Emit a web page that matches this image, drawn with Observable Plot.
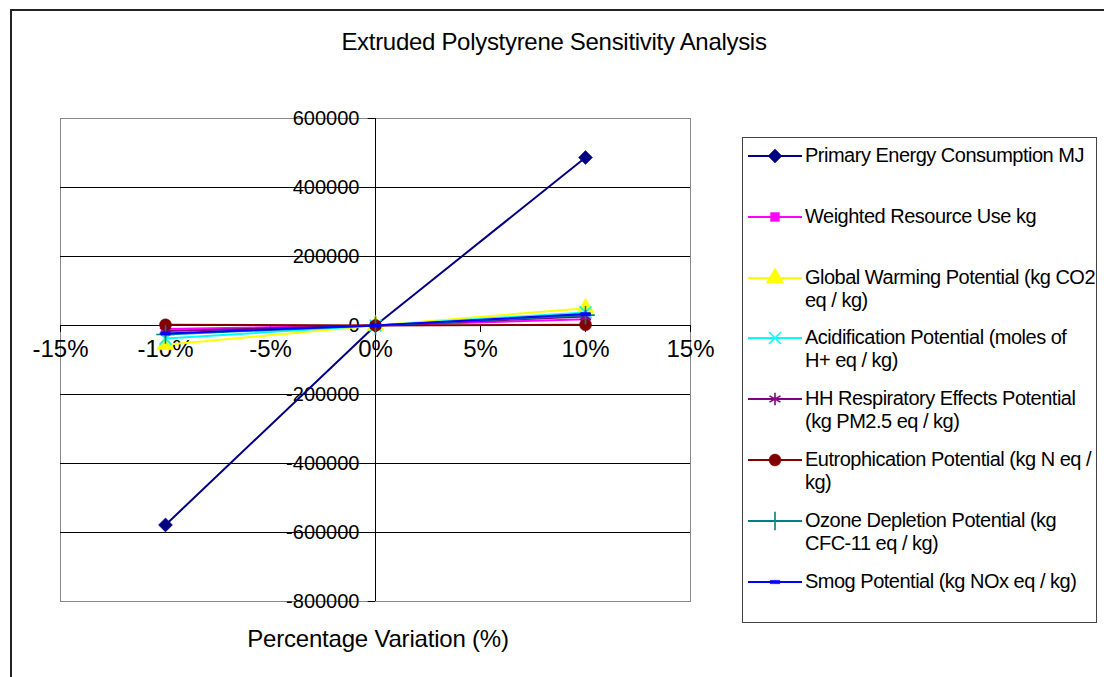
<!DOCTYPE html>
<html>
<head>
<meta charset="utf-8">
<script src="https://cdn.jsdelivr.net/npm/d3@7"></script>
<script src="https://cdn.jsdelivr.net/npm/@observablehq/plot@0.6"></script>
<style>
  html, body { margin: 0; padding: 0; background: #fff; }
  #wrap { position: relative; width: 1104px; height: 677px; overflow: hidden; font-family: "Liberation Sans", Arial, sans-serif; color: #000; }
  #frame { position: absolute; left: 10px; top: 9px; width: 1200px; height: 800px; border-left: 2px solid #222; border-top: 2px solid #222; box-sizing: border-box; }
  #title { position: absolute; left: 0; width: 1104px; top: 28px; text-align: center; padding-left: 2px; font-size: 24px; letter-spacing: -0.3px; }
  #xtitle { position: absolute; left: 128px; width: 500px; top: 625px; text-align: center; font-size: 24px; letter-spacing: -0.2px; }
  #legend { position: absolute; left: 742px; top: 137px; width: 355px; height: 486px; border: 1px solid #444; box-sizing: border-box; background: #fff; }
  .entry { position: absolute; left: 0; width: 355px; }
  .entry svg { position: absolute; left: 5px; top: 0; }
  .entry .lbl { position: absolute; left: 62px; top: 0; width: 292px; font-size: 20px; line-height: 23px; letter-spacing: -0.5px; white-space: nowrap; }
  #plot { position: absolute; left: 0; top: 0; }
</style>
</head>
<body>
<div id="wrap">
  <div id="frame"></div>
  <div id="plot"></div>
  <div id="title"></div>
  <div id="xtitle"></div>
  <div id="legend"></div>
</div>
<script>
// ---- data ----
const chartTitle = "Extruded Polystyrene Sensitivity Analysis";
const xTitle = "Percentage Variation (%)";
const variations = [-0.10, 0, 0.10];
const seriesNames = [
  "Primary Energy Consumption MJ",
  "Weighted Resource Use kg",
  "Global Warming Potential (kg CO2 eq / kg)",
  "Acidification Potential (moles of H+ eq / kg)",
  "HH Respiratory Effects Potential (kg PM2.5 eq / kg)",
  "Eutrophication Potential (kg N eq / kg)",
  "Ozone Depletion Potential (kg CFC-11 eq / kg)",
  "Smog Potential (kg NOx eq / kg)"
];
const legendLines = [
  ["Primary Energy Consumption MJ"],
  ["Weighted Resource Use kg"],
  ["Global Warming Potential (kg CO2", "eq / kg)"],
  ["Acidification Potential (moles of", "H+ eq / kg)"],
  ["HH Respiratory Effects Potential", "(kg PM2.5 eq / kg)"],
  ["Eutrophication Potential (kg N eq /", "kg)"],
  ["Ozone Depletion Potential (kg", "CFC-11 eq / kg)"],
  ["Smog Potential (kg NOx eq / kg)"]
];
const primaryEnergy = [-578000, 0, 487000];
const weightedResource = [-10000, 0, 18000];
const globalWarming = [-56000, 0, 50000];
const acidification = [-38000, 0, 38000];
const hhRespiratory = [-16000, 0, 26000];
const eutrophication = [2000, 0, 2000];
const ozoneDepletion = [-26000, 0, 30000];
const smog = [-23000, 0, 33000];
const seriesValues = [primaryEnergy, weightedResource, globalWarming, acidification, hhRespiratory, eutrophication, ozoneDepletion, smog];
const xTicks = [-0.15, -0.10, -0.05, 0, 0.05, 0.10, 0.15];
const yTicks = [-800000, -600000, -400000, -200000, 0, 200000, 400000, 600000];

// ---- styles ----
const colors = ["#000080", "#FF00FF", "#FFFF00", "#00FFFF", "#800080", "#800000", "#008080", "#0000FF"];
const diamondSymbol = { draw(ctx, size) { const r = Math.sqrt(size) * 0.66; ctx.moveTo(0, -r); ctx.lineTo(r, 0); ctx.lineTo(0, r); ctx.lineTo(-r, 0); ctx.closePath(); } };
const dashSymbol = { draw(ctx, size) { const w = Math.sqrt(size) * 0.45, h = w * 0.35; ctx.rect(-w, -h, 2 * w, 2 * h); } };
const symbols = [diamondSymbol, "square", "triangle", "times", "asterisk", "circle", "plus", dashSymbol];
const radii = [6, 5, 6.5, 5.5, 6, 6, 6, 6];
const strokeSym = [false, false, false, true, true, false, true, false];
const d3Sym = { square: d3.symbolSquare, triangle: d3.symbolTriangle, times: d3.symbolTimes, asterisk: d3.symbolAsterisk, circle: d3.symbolCircle, plus: d3.symbolPlus };

const rows = [];
seriesValues.forEach((vals, i) => vals.forEach((v, j) => rows.push({ series: seriesNames[i], idx: i, x: variations[j], y: v })));

const fmtX = d => Math.round(d * 100) + "%";
const fmtY = d => String(d);
const font = "Liberation Sans, Arial, sans-serif";

const marks = [
  Plot.frame({ stroke: "#888", fill: "#fff" }),
  Plot.ruleY(yTicks.filter(d => d !== 600000 && d !== -800000 && d !== 0), { stroke: "#000", strokeWidth: 1 }),
  Plot.ruleY([0], { stroke: "#000", strokeWidth: 1 }),
  Plot.ruleX([0], { stroke: "#000", strokeWidth: 1 }),
  Plot.ruleY(yTicks, { x1: -0.0035, x2: 0, stroke: "#000" }),
  Plot.ruleX(xTicks, { y1: 0, y2: -20000, stroke: "#000" }),
  Plot.text(yTicks, { x: 0, y: d => d, text: fmtY, textAnchor: "end", dx: -16, fontSize: 20, fontFamily: font, fill: "#000", style: "letter-spacing:-0.6px" }),
  Plot.text(xTicks, { x: d => d, y: 0, text: fmtX, dy: 24, fontSize: 24, fontFamily: font, fill: "#000" })
];
seriesNames.forEach((name, i) => {
  const data = rows.filter(r => r.idx === i);
  marks.push(Plot.line(data, { x: "x", y: "y", stroke: colors[i], strokeWidth: 2 }));
  marks.push(Plot.dot(data, strokeSym[i]
    ? { x: "x", y: "y", symbol: symbols[i], r: radii[i], stroke: colors[i], strokeWidth: 1.6, fill: "none" }
    : { x: "x", y: "y", symbol: symbols[i], r: radii[i], fill: colors[i], stroke: colors[i], strokeWidth: 0.5 }));
});

const chart = Plot.plot({
  width: 1104,
  height: 677,
  marginLeft: 60,
  marginRight: 414,
  marginTop: 118,
  marginBottom: 76,
  style: { background: "transparent", overflow: "visible" },
  x: { domain: [-0.15, 0.15], axis: null },
  y: { domain: [-800000, 600000], axis: null },
  marks
});
document.getElementById("plot").appendChild(chart);
document.getElementById("title").textContent = chartTitle;
document.getElementById("xtitle").textContent = xTitle;

// ---- legend ----
const legend = document.getElementById("legend");
legendLines.forEach((lines, i) => {
  const top = 155 - 137 - 12 + i * 60.8;
  const e = document.createElement("div");
  e.className = "entry";
  e.style.top = top + "px";
  const svg = d3.create("svg").attr("width", 56).attr("height", 24);
  svg.append("line").attr("x1", 0).attr("x2", 54).attr("y1", 12).attr("y2", 12).attr("stroke", colors[i]).attr("stroke-width", 2);
  const symType = typeof symbols[i] === "string" ? d3Sym[symbols[i]] : symbols[i];
  const path = svg.append("path").attr("transform", "translate(27,12)")
    .attr("d", d3.symbol(symType, Math.PI * radii[i] * radii[i])());
  if (strokeSym[i]) path.attr("fill", "none").attr("stroke", colors[i]).attr("stroke-width", 1.6);
  else path.attr("fill", colors[i]).attr("stroke", colors[i]).attr("stroke-width", 0.5);
  e.appendChild(svg.node());
  const lbl = document.createElement("div");
  lbl.className = "lbl";
  lbl.innerHTML = lines.map(l => l.replace(/&/g, "&amp;").replace(/</g, "&lt;")).join("<br>");
  e.appendChild(lbl);
  legend.appendChild(e);
});
</script>
</body>
</html>
